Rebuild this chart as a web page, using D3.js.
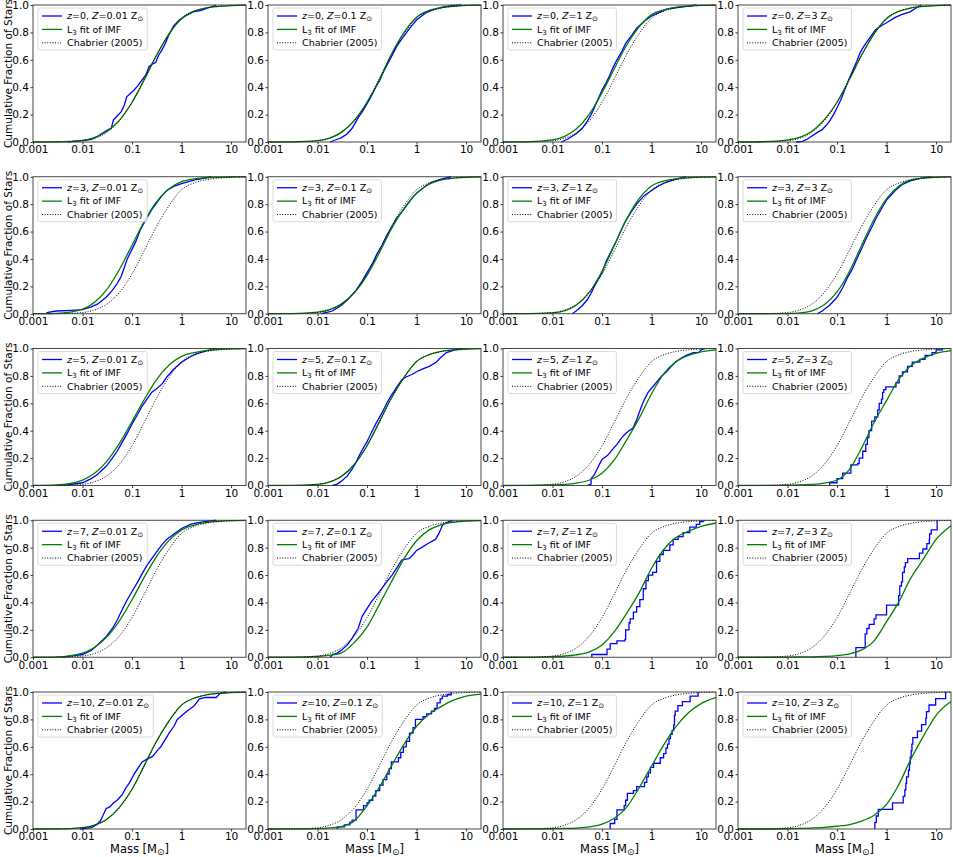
<!DOCTYPE html>
<html>
<head>
<meta charset="utf-8">
<script src="https://cdn.jsdelivr.net/npm/d3@7"></script>
<style>
  body { margin: 0; background: #fff; }
  text { font-family: "DejaVu Sans", sans-serif; fill: #000; }
</style>
</head>
<body>
<div id="chart-area"></div>
<script>
// panel labels
const redshifts = [0, 3, 5, 7, 10]
const metallicities = ["0.01", "0.1", "1", "3"]

// ticks
const xTicks = [0.001, 0.01, 0.1, 1, 10]
const xTickLabels = ["0.001", "0.01", "0.1", "1", "10"]
const yTicks = [0, 0.2, 0.4, 0.6, 0.8, 1.0]

const massGrid = [0.001, 0.003, 0.01, 0.018, 0.03, 0.056, 0.1, 0.18, 0.3, 0.56, 1, 1.8, 3, 5.6, 10, 20]

// Chabrier (2005), same in every panel
const chabrier = [0, 0.0005, 0.009, 0.029, 0.067, 0.157, 0.29, 0.467, 0.626, 0.79, 0.905, 0.955, 0.977, 0.99, 0.996, 0.999]

// L3 fit of IMF, one row per redshift, one array per metallicity (values on massGrid)
const fitZ0 = [
  [0, 0.001, 0.012, 0.033, 0.075, 0.16, 0.29, 0.46, 0.62, 0.79, 0.9, 0.955, 0.978, 0.99, 0.996, 0.999],
  [0, 0.001, 0.01, 0.03, 0.07, 0.16, 0.29, 0.46, 0.63, 0.8, 0.91, 0.96, 0.98, 0.99, 0.997, 0.999],
  [0, 0.001, 0.015, 0.043, 0.095, 0.206, 0.36, 0.54, 0.695, 0.84, 0.93, 0.965, 0.982, 0.992, 0.997, 0.999],
  [0, 0.002, 0.015, 0.035, 0.075, 0.165, 0.29, 0.46, 0.62, 0.79, 0.9, 0.955, 0.977, 0.99, 0.996, 0.999]
]
const fitZ3 = [
  [0, 0.003, 0.034, 0.088, 0.17, 0.325, 0.5, 0.68, 0.81, 0.913, 0.965, 0.985, 0.992, 0.996, 0.998, 0.999],
  [0, 0.001, 0.012, 0.032, 0.07, 0.155, 0.28, 0.45, 0.61, 0.77, 0.88, 0.945, 0.975, 0.99, 0.996, 0.999],
  [0, 0.0002, 0.006, 0.023, 0.062, 0.159, 0.31, 0.504, 0.677, 0.84, 0.933, 0.97, 0.985, 0.993, 0.997, 0.999],
  [0, 0, 0.0013, 0.006, 0.02, 0.067, 0.159, 0.312, 0.484, 0.69, 0.84, 0.935, 0.975, 0.99, 0.996, 0.999]
]
const fitZ5 = [
  [0, 0.004, 0.04, 0.093, 0.171, 0.309, 0.467, 0.633, 0.764, 0.879, 0.943, 0.97, 0.985, 0.993, 0.997, 0.999],
  [0, 0.0005, 0.008, 0.027, 0.065, 0.155, 0.29, 0.47, 0.63, 0.79, 0.905, 0.955, 0.977, 0.99, 0.996, 0.999],
  [0, 0.0005, 0.004, 0.008, 0.017, 0.04, 0.09, 0.19, 0.32, 0.49, 0.67, 0.82, 0.9, 0.95, 0.975, 0.99],
  [0, 0.0003, 0.002, 0.004, 0.008, 0.018, 0.04, 0.12, 0.26, 0.46, 0.62, 0.78, 0.87, 0.93, 0.965, 0.985]
]
const fitZ7 = [
  [0, 0.003, 0.031, 0.075, 0.143, 0.268, 0.42, 0.59, 0.726, 0.853, 0.93, 0.965, 0.982, 0.992, 0.997, 0.999],
  [0, 0.0008, 0.006, 0.015, 0.03, 0.11, 0.22, 0.39, 0.54, 0.72, 0.85, 0.93, 0.965, 0.985, 0.994, 0.998],
  [0, 0.0004, 0.004, 0.009, 0.018, 0.04, 0.09, 0.19, 0.31, 0.47, 0.65, 0.79, 0.87, 0.92, 0.955, 0.98],
  [0, 0, 0.001, 0.002, 0.003, 0.006, 0.012, 0.025, 0.05, 0.12, 0.26, 0.41, 0.57, 0.72, 0.86, 0.96]
]
const fitZ10 = [
  [0, 0.0005, 0.01, 0.03, 0.068, 0.16, 0.29, 0.47, 0.63, 0.79, 0.905, 0.955, 0.977, 0.99, 0.996, 0.999],
  [0, 0.0004, 0.003, 0.008, 0.018, 0.06, 0.17, 0.31, 0.45, 0.62, 0.75, 0.84, 0.89, 0.94, 0.97, 0.985],
  [0, 0.0002, 0.002, 0.004, 0.007, 0.015, 0.035, 0.08, 0.15, 0.3, 0.46, 0.62, 0.74, 0.85, 0.915, 0.96],
  [0, 0, 0.002, 0.004, 0.007, 0.012, 0.02, 0.032, 0.055, 0.1, 0.18, 0.33, 0.5, 0.68, 0.83, 0.93]
]

// cumulative fraction of the simulated stars: [mass, fraction]
const starsZ0 = [
  [[0.005,0],[0.01,0.01],[0.015,0.02],[0.02,0.04],[0.027,0.07],[0.033,0.09],[0.038,0.1],[0.042,0.16],[0.05,0.19],[0.06,0.22],[0.07,0.27],[0.078,0.33],[0.09,0.35],[0.11,0.38],[0.13,0.41],[0.15,0.44],[0.19,0.49],[0.22,0.55],[0.26,0.57],[0.3,0.58],[0.34,0.63],[0.4,0.67],[0.47,0.72],[0.55,0.78],[0.7,0.85],[0.9,0.89],[1.2,0.92],[1.7,0.95],[2.5,0.96],[3.5,0.98],[5,1.0]],
  [[0.018,0],[0.025,0.02],[0.03,0.03],[0.04,0.06],[0.05,0.1],[0.06,0.15],[0.07,0.19],[0.08,0.22],[0.1,0.28],[0.12,0.33],[0.15,0.4],[0.18,0.45],[0.22,0.52],[0.27,0.58],[0.33,0.64],[0.4,0.7],[0.5,0.75],[0.6,0.79],[0.8,0.85],[1,0.89],[1.5,0.94],[2,0.96],[3,0.98],[5,0.995],[8,1.0]],
  [[0.015,0],[0.02,0.02],[0.03,0.06],[0.04,0.1],[0.05,0.15],[0.06,0.2],[0.07,0.25],[0.08,0.3],[0.1,0.38],[0.12,0.43],[0.14,0.48],[0.17,0.55],[0.2,0.6],[0.25,0.66],[0.3,0.72],[0.4,0.78],[0.5,0.83],[0.7,0.88],[1,0.92],[1.5,0.95],[2,0.97],[3,0.98],[5,0.99],[8,1.0]],
  [[0.015,0],[0.02,0.005],[0.025,0.02],[0.03,0.04],[0.04,0.07],[0.05,0.09],[0.06,0.12],[0.07,0.15],[0.085,0.2],[0.1,0.25],[0.12,0.31],[0.15,0.4],[0.18,0.47],[0.2,0.51],[0.25,0.59],[0.3,0.66],[0.35,0.7],[0.4,0.73],[0.5,0.78],[0.6,0.82],[0.8,0.85],[1,0.87],[1.5,0.91],[2,0.93],[3,0.95],[4,0.98],[5,1.0]]
]
const starsZ3 = [
  [[0.0018,0],[0.002,0.01],[0.003,0.02],[0.006,0.025],[0.01,0.03],[0.015,0.05],[0.02,0.07],[0.03,0.12],[0.04,0.17],[0.05,0.22],[0.06,0.27],[0.07,0.34],[0.08,0.4],[0.1,0.47],[0.12,0.53],[0.15,0.62],[0.2,0.7],[0.25,0.76],[0.3,0.8],[0.4,0.86],[0.5,0.9],[0.7,0.93],[1,0.95],[2,0.98],[4,1.0]],
  [[0.012,0],[0.02,0.02],[0.03,0.06],[0.04,0.1],[0.05,0.14],[0.06,0.17],[0.08,0.24],[0.1,0.3],[0.13,0.37],[0.16,0.44],[0.2,0.5],[0.25,0.57],[0.3,0.62],[0.4,0.7],[0.5,0.74],[0.6,0.78],[0.8,0.84],[1,0.88],[1.5,0.93],[2,0.96],[3,0.98],[5,1.0]],
  [[0.025,0],[0.03,0.02],[0.04,0.06],[0.05,0.1],[0.06,0.15],[0.07,0.2],[0.08,0.24],[0.1,0.3],[0.12,0.38],[0.15,0.45],[0.2,0.54],[0.25,0.62],[0.3,0.68],[0.4,0.75],[0.5,0.8],[0.7,0.86],[1,0.9],[1.5,0.94],[2,0.96],[3,0.98],[5,1.0]],
  [[0.04,0],[0.05,0.02],[0.07,0.06],[0.1,0.12],[0.13,0.19],[0.16,0.26],[0.2,0.32],[0.25,0.4],[0.3,0.46],[0.4,0.56],[0.5,0.63],[0.6,0.69],[0.8,0.77],[1,0.83],[1.5,0.9],[2,0.94],[3,0.97],[5,0.99],[8,1.0]]
]
const starsZ5 = [
  [[0.003,0],[0.005,0.005],[0.01,0.02],[0.015,0.05],[0.02,0.08],[0.03,0.14],[0.04,0.2],[0.05,0.25],[0.06,0.3],[0.08,0.38],[0.1,0.45],[0.13,0.52],[0.16,0.58],[0.2,0.63],[0.25,0.68],[0.3,0.7],[0.4,0.74],[0.5,0.79],[0.7,0.85],[1,0.9],[1.5,0.94],[2,0.96],[3,0.98],[5,1.0]],
  [[0.02,0],[0.025,0.01],[0.03,0.03],[0.04,0.07],[0.05,0.12],[0.06,0.17],[0.07,0.22],[0.08,0.26],[0.1,0.32],[0.12,0.38],[0.15,0.45],[0.2,0.53],[0.25,0.6],[0.3,0.65],[0.4,0.72],[0.5,0.77],[0.6,0.79],[0.8,0.81],[1,0.83],[1.3,0.85],[1.8,0.87],[2.5,0.9],[3,0.93],[4,0.97],[6,0.99],[8,1.0]],
  [[0.05,0],[0.06,0.01],[0.06,0.05],[0.07,0.08],[0.08,0.12],[0.09,0.16],[0.1,0.19],[0.13,0.22],[0.16,0.26],[0.2,0.3],[0.25,0.35],[0.3,0.38],[0.35,0.4],[0.42,0.42],[0.5,0.48],[0.6,0.56],[0.7,0.62],[0.85,0.68],[1,0.71],[1.3,0.76],[1.6,0.8],[2,0.83],[2.5,0.87],[3,0.9],[4,0.93],[5,0.95],[7,0.97],[9,0.97],[10,0.99],[12,1]],
  [[0.071,0],[0.071,0.02],[0.1,0.05],[0.13,0.09],[0.19,0.15],[0.26,0.16],[0.28,0.2],[0.33,0.25],[0.38,0.3],[0.41,0.35],[0.44,0.4],[0.5,0.47],[0.58,0.5],[0.66,0.55],[0.71,0.6],[0.79,0.63],[0.83,0.68],[0.88,0.7],[0.97,0.72],[1.55,0.75],[1.8,0.8],[2.1,0.83],[2.65,0.87],[3.3,0.9],[4.7,0.92],[6,0.95],[8.3,0.97],[10,0.99],[13.5,1.0]]
]
const starsZ7 = [
  [[0.004,0],[0.006,0.01],[0.01,0.02],[0.015,0.05],[0.02,0.09],[0.03,0.15],[0.04,0.21],[0.05,0.27],[0.06,0.33],[0.07,0.38],[0.08,0.42],[0.1,0.48],[0.13,0.55],[0.16,0.61],[0.2,0.67],[0.3,0.76],[0.4,0.82],[0.5,0.86],[0.7,0.9],[1,0.94],[1.5,0.97],[2,0.98],[3,0.99],[5,1.0]],
  [[0.018,0],[0.02,0.02],[0.025,0.03],[0.03,0.05],[0.04,0.09],[0.05,0.14],[0.066,0.21],[0.08,0.3],[0.12,0.4],[0.17,0.47],[0.25,0.55],[0.32,0.6],[0.43,0.67],[0.5,0.71],[0.7,0.72],[0.86,0.75],[1.0,0.78],[1.26,0.8],[1.7,0.83],[2.4,0.86],[2.8,0.9],[3.4,0.97],[4.5,0.99],[5.5,1.0]],
  [[0.062,0],[0.062,0.02],[0.126,0.06],[0.146,0.1],[0.2,0.12],[0.29,0.13],[0.3,0.2],[0.35,0.25],[0.37,0.28],[0.43,0.33],[0.5,0.37],[0.58,0.42],[0.68,0.5],[0.77,0.56],[0.86,0.6],[1.05,0.62],[1.26,0.7],[1.47,0.75],[1.72,0.78],[2.34,0.82],[2.73,0.86],[3.44,0.88],[4.33,0.91],[5.9,0.95],[8.0,0.97],[9.4,0.99],[11,1.0]],
  [[0.24,0],[0.24,0.07],[0.37,0.17],[0.4,0.21],[0.445,0.24],[0.56,0.28],[0.61,0.31],[1.0,0.38],[1.75,0.45],[1.85,0.52],[2.0,0.55],[2.1,0.62],[2.28,0.66],[2.4,0.69],[2.67,0.72],[4.6,0.76],[5.4,0.79],[6.5,0.83],[7.3,0.86],[7.4,0.9],[8,0.93],[10.5,1.0]]
]
const starsZ10 = [
  [[0.009,0],[0.015,0.01],[0.019,0.03],[0.023,0.06],[0.026,0.1],[0.03,0.15],[0.035,0.16],[0.042,0.19],[0.05,0.21],[0.063,0.25],[0.075,0.3],[0.09,0.34],[0.11,0.4],[0.13,0.44],[0.16,0.49],[0.2,0.51],[0.26,0.53],[0.32,0.57],[0.38,0.6],[0.48,0.66],[0.56,0.7],[0.7,0.75],[0.82,0.8],[1.1,0.84],[1.4,0.87],[1.8,0.9],[2.3,0.95],[3,0.96],[5,0.96],[6,0.99],[8,1.0]],
  [[0.025,0],[0.025,0.015],[0.035,0.03],[0.045,0.05],[0.05,0.065],[0.06,0.14],[0.085,0.17],[0.1,0.19],[0.11,0.21],[0.13,0.24],[0.15,0.28],[0.18,0.32],[0.21,0.36],[0.25,0.4],[0.28,0.44],[0.31,0.49],[0.43,0.52],[0.48,0.56],[0.54,0.6],[0.62,0.64],[0.72,0.7],[0.85,0.74],[0.95,0.8],[1.35,0.82],[1.6,0.84],[2.0,0.86],[2.3,0.88],[2.6,0.92],[3.0,0.95],[3.3,0.97],[4.2,0.98],[5.0,1.0]],
  [[0.146,0],[0.146,0.04],[0.18,0.07],[0.2,0.14],[0.28,0.17],[0.3,0.21],[0.325,0.26],[0.43,0.28],[0.5,0.31],[0.72,0.34],[0.8,0.38],[0.86,0.41],[0.95,0.45],[1.1,0.48],[1.5,0.52],[1.75,0.55],[1.95,0.59],[2.1,0.62],[2.25,0.66],[2.4,0.69],[2.6,0.72],[2.8,0.76],[2.9,0.83],[3.0,0.86],[3.4,0.9],[4.2,0.93],[6.0,0.97],[8.7,1.0]],
  [[0.58,0],[0.58,0.048],[0.62,0.095],[0.68,0.143],[1.32,0.19],[2.17,0.238],[2.34,0.286],[2.45,0.333],[2.53,0.381],[2.77,0.429],[2.9,0.476],[3.0,0.524],[3.14,0.571],[3.25,0.619],[3.39,0.667],[4.2,0.714],[5.1,0.762],[6.2,0.81],[6.4,0.857],[7.2,0.905],[9.8,0.952],[15.6,1.0]]
]
// panels where few stars make the steps visible
const steppedZ5 = [false, false, false, true]
const steppedZ7 = [false, false, true, true]
const steppedZ10 = [false, true, true, true]

const fits = [fitZ0, fitZ3, fitZ5, fitZ7, fitZ10]
const stars = [starsZ0, starsZ3, starsZ5, starsZ7, starsZ10]
const stepped = [[false,false,false,false], [false,false,false,false], steppedZ5, steppedZ7, steppedZ10]

// layout
const width = 953, height = 857
const marginLeft = 33, marginTop = 5
const pw = 213, ph = 137
const dx = 235, dy = 171.75

const svg = d3.select("#chart-area").append("svg")
    .attr("width", width)
    .attr("height", height)

const x = d3.scaleLog().domain([0.001, 20]).range([0, pw])
const y = d3.scaleLinear().domain([0, 1]).range([ph, 0])

const smooth = d3.line().x(d => x(d[0])).y(d => y(d[1])).curve(d3.curveMonotoneX)
const linear = d3.line().x(d => x(d[0])).y(d => y(d[1]))
const steps = d3.line().x(d => x(d[0])).y(d => y(d[1])).curve(d3.curveStepAfter)

const blue = "#0000ff", green = "#008000"

redshifts.forEach((z, r) => {
    metallicities.forEach((Z, c) => {
        const g = svg.append("g")
            .attr("transform", `translate(${marginLeft + c * dx},${marginTop + r * dy})`)

        const clipId = `clip-${r}-${c}`
        g.append("clipPath").attr("id", clipId)
          .append("rect").attr("x", -1).attr("y", -1).attr("width", pw + 2).attr("height", ph + 2)

        // axes
        const xAxis = g.append("g")
            .attr("transform", `translate(0,${ph})`)
            .call(d3.axisBottom(x).tickValues(xTicks).tickFormat((d, i) => xTickLabels[i]).tickSize(2.5).tickPadding(1.5))
        const yAxis = g.append("g")
            .call(d3.axisLeft(y).tickValues(yTicks).tickFormat(d3.format(".1f")).tickSize(2.5).tickPadding(1.5))
        ;[xAxis, yAxis].forEach(a => {
            a.select(".domain").remove()
            a.selectAll("line").attr("stroke", "#000").attr("stroke-width", 0.8)
            a.selectAll("text").attr("font-size", 10.5).attr("font-family", "DejaVu Sans").attr("fill", "#000")
        })

        const plot = g.append("g").attr("clip-path", `url(#${clipId})`)

        // simulated stars
        plot.append("path")
            .attr("d", (stepped[r][c] ? steps : linear)(stars[r][c]))
            .attr("fill", "none")
            .attr("stroke", blue)
            .attr("stroke-width", 1.3)

        // L3 fit
        plot.append("path")
            .attr("d", smooth(massGrid.map((m, i) => [m, fits[r][c][i]])))
            .attr("fill", "none")
            .attr("stroke", green)
            .attr("stroke-width", 1.3)

        // Chabrier
        plot.append("path")
            .attr("d", smooth(massGrid.map((m, i) => [m, chabrier[i]])))
            .attr("fill", "none")
            .attr("stroke", "#000")
            .attr("stroke-width", 1)
            .attr("stroke-dasharray", "1,1.6")

        // frame
        g.append("rect")
            .attr("width", pw).attr("height", ph)
            .attr("fill", "none")
            .attr("stroke", "#333")
            .attr("stroke-width", 0.9)

        // legend
        const lg = g.append("g").attr("transform", "translate(5,3)")
        const box = lg.append("rect")
            .attr("rx", 2)
            .attr("fill", "#fff").attr("fill-opacity", 0.8)
            .attr("stroke", "#d0d0d0").attr("stroke-width", 0.8)
        const rows = [
            { color: blue, dash: null },
            { color: green, dash: null },
            { color: "#000", dash: "1,1.6" }
        ]
        rows.forEach((row, i) => {
            const cy = 8 + i * 13.4
            lg.append("line")
                .attr("x1", 4).attr("x2", 24).attr("y1", cy).attr("y2", cy)
                .attr("stroke", row.color)
                .attr("stroke-width", row.dash ? 1 : 1.3)
                .attr("stroke-dasharray", row.dash)
            const t = lg.append("text")
                .attr("x", 29).attr("y", cy + 3.3)
                .attr("font-size", 9.5)
            if (i === 0) {
                t.append("tspan").attr("font-style", "italic").text("z")
                t.append("tspan").text(`=${z}, `)
                t.append("tspan").attr("font-style", "italic").text("Z")
                t.append("tspan").text(`=${Z} Z`)
                t.append("tspan").attr("dy", 2).attr("font-size", 7).text("\u2299")
            } else if (i === 1) {
                t.append("tspan").text("L")
                t.append("tspan").attr("dy", 2).attr("font-size", 7).text("3")
                t.append("tspan").attr("dy", -2).text(" fit of IMF")
            } else {
                t.text("Chabrier (2005)")
            }
        })
        const bb = lg.node().getBBox()
        box.attr("x", 0).attr("y", 0).attr("width", bb.width + 8).attr("height", 42)

        // axis titles
        if (c === 0) {
            g.append("text")
                .attr("transform", `translate(${-21},${ph / 2}) rotate(-90)`)
                .attr("text-anchor", "middle")
                .attr("font-size", 10.5)
                .text("Cumulative Fraction of Stars")
        }
        if (r === redshifts.length - 1) {
            const t = g.append("text")
                .attr("x", pw / 2).attr("y", ph + 24)
                .attr("text-anchor", "middle")
                .attr("font-size", 11.5)
            t.append("tspan").text("Mass [M")
            t.append("tspan").attr("dy", 2).attr("font-size", 9).text("\u2299")
            t.append("tspan").attr("dy", -2).text("]")
        }
    })
})
</script>
</body>
</html>
